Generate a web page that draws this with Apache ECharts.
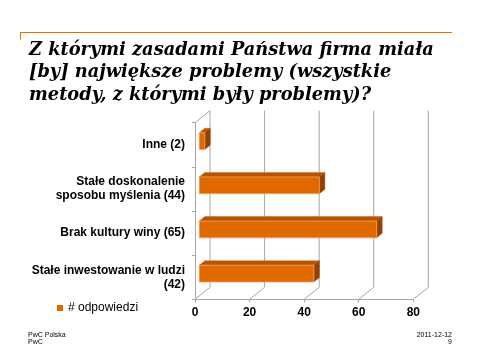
<!DOCTYPE html>
<html><head><meta charset="utf-8">
<script src="https://cdn.jsdelivr.net/npm/echarts@6/dist/echarts.min.js"></script>
<style>html,body{margin:0;padding:0;background:#fff}#c{width:480px;height:360px}</style>
</head><body><div id="c"></div>
<script>
var categories = ['Inne (2)', 'Stałe doskonalenie\nsposobu myślenia (44)', 'Brak kultury winy (65)', 'Stałe inwestowanie w ludzi\n(42)'];
var values = [2, 44, 65, 42];
var xTicks = [0, 20, 40, 60, 80];
var seriesName = '# odpowiedzi';
var titleText = 'Z którymi zasadami Państwa firma miała\n[by] największe problemy (wszystkie\nmetody, z którymi były problemy)?';

var DX = 15, DY = -12;          // full depth of the 3D box
var BX0 = 4.3, BY0 = -3.6;      // bar front plane offset
var BDX = 5.5, BDY = -4.5;      // bar depth
var gridColor = '#a6a6a6';

var chart = echarts.init(document.getElementById('c'));
chart.setOption({
  backgroundColor: '#fff',
  animation: false,
  title: {
    text: titleText,
    left: 24, top: 34,
    textStyle: { fontFamily: 'DejaVu Serif', fontWeight: 'bold', fontStyle: 'italic', fontSize: 17.8, lineHeight: 22.5, color: '#000' }
  },
  legend: {
    left: 52, top: 297,
    itemWidth: 6, itemHeight: 6,
    icon: 'rect',
    data: [seriesName],
    textStyle: { fontFamily: 'Liberation Sans', fontSize: 12, color: '#000' }
  },
  grid: { left: 195, top: 122.7, width: 218.3, height: 176.6 },
  xAxis: {
    type: 'value', min: 0, max: 80, interval: 20,
    axisLine: { show: true, lineStyle: { color: gridColor } },
    axisTick: { show: true, length: 3, lineStyle: { color: gridColor } },
    splitLine: { show: false },
    axisLabel: { margin: 7, fontFamily: 'Liberation Sans', fontWeight: 'bold', fontSize: 12, color: '#000' }
  },
  yAxis: {
    type: 'category', inverse: true, data: categories,
    axisLine: { show: true, lineStyle: { color: gridColor } },
    axisTick: { show: true, length: 3, lineStyle: { color: gridColor } },
    axisLabel: { margin: 10, fontFamily: 'Liberation Sans', fontWeight: 'bold', fontSize: 12, color: '#000', lineHeight: 14 }
  },
  series: [
    {
      type: 'custom', name: 'walls', silent: true, z: 1,
      data: xTicks,
      encode: { x: 0 },
      renderItem: function (params, api) {
        var cs = params.coordSys;
        var x = api.coord([api.value(0), 0])[0];
        var bottom = cs.y + cs.height, top = cs.y;
        var children = [
          { type: 'line', shape: { x1: x, y1: bottom, x2: x + DX, y2: bottom + DY }, style: { stroke: gridColor, lineWidth: 1 } },
          { type: 'line', shape: { x1: x + DX, y1: bottom + DY, x2: x + DX, y2: top + DY }, style: { stroke: gridColor, lineWidth: 1 } }
        ];
        if (params.dataIndex === 0) {
          children.push({ type: 'line', shape: { x1: x, y1: top, x2: x + DX, y2: top + DY }, style: { stroke: gridColor, lineWidth: 1 } });
        }
        return { type: 'group', children: children };
      }
    },
    {
      type: 'custom', name: seriesName, z: 3,
      itemStyle: { color: '#E06A00' },
      data: values.map(function (v, i) { return [v, i]; }),
      encode: { x: 0, y: 1 },
      renderItem: function (params, api) {
        var p0 = api.coord([0, api.value(1)]);
        var p1 = api.coord([api.value(0), api.value(1)]);
        var band = api.size([0, 1])[1];
        var h = band * 0.38;
        var x0 = p0[0] + BX0, x1 = p1[0] + BX0;
        var yT = p0[1] + BY0 - h / 2, yB = p0[1] + BY0 + h / 2;
        return {
          type: 'group',
          children: [
            { type: 'polygon', shape: { points: [[x0, yT], [x1, yT], [x1 + BDX, yT + BDY], [x0 + BDX, yT + BDY]] }, style: { fill: '#B65400', stroke: '#C86A20', lineWidth: 0.5 } },
            { type: 'polygon', shape: { points: [[x1, yT], [x1 + BDX, yT + BDY], [x1 + BDX, yB + BDY], [x1, yB]] }, style: { fill: '#934000', stroke: '#A85010', lineWidth: 0.5 } },
            { type: 'rect', shape: { x: x0, y: yT, width: x1 - x0, height: yB - yT }, style: { fill: '#E06A00', stroke: '#F0A060', lineWidth: 0.8 } }
          ]
        };
      }
    }
  ],
  graphic: [
    { type: 'line', shape: { x1: 20, y1: 32.5, x2: 452, y2: 32.5 }, style: { stroke: '#E07000', lineWidth: 1 } },
    { type: 'line', shape: { x1: 20.5, y1: 32.5, x2: 20.5, y2: 39.5 }, style: { stroke: '#E07000', lineWidth: 1 } },
    { type: 'text', x: 28, y: 332, style: { text: 'PwC Polska', font: '7px "Liberation Sans"', fill: '#000' } },
    { type: 'text', x: 28, y: 339, style: { text: 'PwC', font: '7px "Liberation Sans"', fill: '#000' } },
    { type: 'text', x: 452, y: 332, style: { text: '2011-12-12', font: '7px "Liberation Sans"', fill: '#000', align: 'right' } },
    { type: 'text', x: 452, y: 339, style: { text: '9', font: '7px "Liberation Sans"', fill: '#000', align: 'right' } }
  ]
});
</script></body></html>
